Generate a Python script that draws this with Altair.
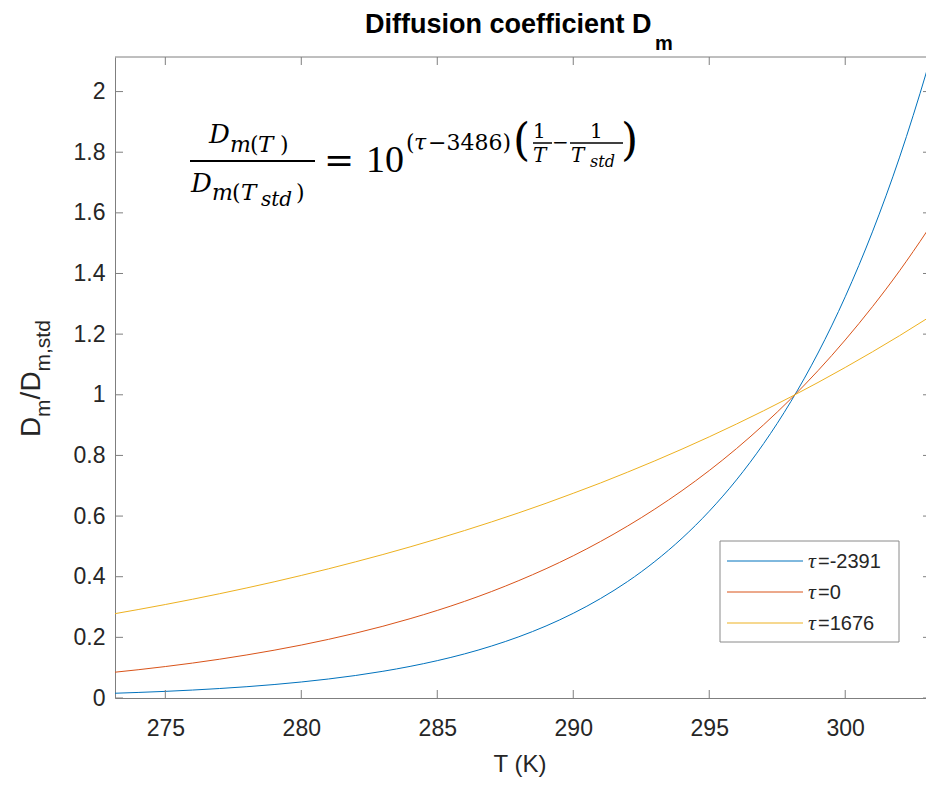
import altair as alt
import pandas as pd

# ---------------- data ----------------
T_K = [273.15, 274, 275, 276, 277, 278, 279, 280, 281, 282, 283, 284, 285, 286,
       287, 288, 289, 290, 291, 292, 293, 294, 295, 296, 297, 298, 299, 300,
       301, 302, 303, 303.15]
ratio_tau_m2391 = [0.0157, 0.0183, 0.0219, 0.0262, 0.0313, 0.0373, 0.0444, 0.0528,
                   0.0627, 0.0743, 0.0881, 0.1042, 0.1232, 0.1454, 0.1715, 0.2020,
                   0.2376, 0.2793, 0.3279, 0.3843, 0.4503, 0.5269, 0.6160, 0.7192,
                   0.8390, 0.9775, 1.1378, 1.3232, 1.5373, 1.7838, 2.0683, 2.1140]
ratio_tau_0 = [0.0851, 0.0932, 0.1037, 0.1152, 0.1280, 0.1421, 0.1576, 0.1746,
               0.1934, 0.2140, 0.2366, 0.2616, 0.2888, 0.3186, 0.3513, 0.3873,
               0.4264, 0.4691, 0.5161, 0.5673, 0.6231, 0.6839, 0.7501, 0.8224,
               0.9012, 0.9866, 1.0796, 1.1808, 1.2904, 1.4091, 1.5389, 1.5592]
ratio_tau_1676 = [0.2782, 0.2917, 0.3083, 0.3257, 0.3440, 0.3631, 0.3831, 0.4042,
                  0.4261, 0.4492, 0.4732, 0.4984, 0.5247, 0.5522, 0.5809, 0.6108,
                  0.6422, 0.6752, 0.7091, 0.7449, 0.7821, 0.8209, 0.8613, 0.9035,
                  0.9473, 0.9930, 1.0406, 1.0901, 1.1416, 1.1951, 1.2510, 1.2594]
tau_values = ["-2391", "0", "1676"]
series_names = ["τ=-2391", "τ=0", "τ=1676"]
x_ticks = [275, 280, 285, 290, 295, 300]
y_ticks = [0, 0.2, 0.4, 0.6, 0.8, 1, 1.2, 1.4, 1.6, 1.8, 2]

# ---------------- layout / style ----------------
W, H = 811, 641
OX, OY = 115, 57
COLORS = ["#0072BD", "#D95319", "#EDB120"]
AX = "#7f7f7f"
TXT = "#262626"
SANS = "Liberation Sans"
MATH = "DejaVu Serif"

rows = []
for name, vals in zip(series_names, [ratio_tau_m2391, ratio_tau_0, ratio_tau_1676]):
    for t, v in zip(T_K, vals):
        rows.append({"T": t, "ratio": v, "series": name})
df = pd.DataFrame(rows)

xscale = alt.Scale(domain=[273.15, 302.97], nice=False, zero=False)
yscale = alt.Scale(domain=[0, 2.114], nice=False, zero=False)
xaxis = alt.Axis(values=x_ticks, title="", ticks=False, tickSize=0, grid=False,
                 labelPadding=19, labelFont=SANS, labelFontSize=23, labelColor=TXT,
                 domainColor=AX, domainWidth=1, labelFlush=False)
yaxis = alt.Axis(values=y_ticks, format="~g", title="", ticks=False, tickSize=0, grid=False,
                 labelPadding=10, labelFont=SANS, labelFontSize=23, labelColor=TXT,
                 domainColor=AX, domainWidth=1, labelFlush=False)

lines = alt.Chart(df).mark_line(clip=True, strokeWidth=1, interpolate="monotone").encode(
    x=alt.X("T:Q", scale=xscale, axis=xaxis),
    y=alt.Y("ratio:Q", scale=yscale, axis=yaxis),
    color=alt.Color("series:N", scale=alt.Scale(domain=series_names, range=COLORS), legend=None),
)

xt = pd.DataFrame({"T": x_ticks})
yt = pd.DataFrame({"ratio": y_ticks})
tick_b = alt.Chart(xt).mark_rule(color=AX, strokeWidth=1).encode(
    x=alt.X("T:Q", scale=xscale, axis=xaxis), y=alt.value(H), y2=alt.value(H - 8))
tick_t = alt.Chart(xt).mark_rule(color=AX, strokeWidth=1).encode(
    x=alt.X("T:Q", scale=xscale, axis=xaxis), y=alt.value(0), y2=alt.value(8))
tick_l = alt.Chart(yt).mark_rule(color=AX, strokeWidth=1).encode(
    y=alt.Y("ratio:Q", scale=yscale, axis=yaxis), x=alt.value(0), x2=alt.value(8))
tick_r = alt.Chart(yt).mark_rule(color=AX, strokeWidth=1).encode(
    y=alt.Y("ratio:Q", scale=yscale, axis=yaxis), x=alt.value(W - 3), x2=alt.value(W))

one = pd.DataFrame({"k": [0]})
top_border = alt.Chart(one).mark_rule(color=AX, strokeWidth=1).encode(
    x=alt.value(0), x2=alt.value(W), y=alt.value(0))


def txt(s, X, Y, size, font=SANS, style="normal", weight="normal", angle=0,
        align="left", color=TXT):
    return alt.Chart(pd.DataFrame({"t": [s]})).mark_text(
        font=font, fontSize=size, fontStyle=style, fontWeight=weight,
        angle=angle, align=align, baseline="alphabetic", color=color
    ).encode(x=alt.value(X - OX), y=alt.value(Y - OY), text="t:N")


def hbar(X1, X2, Y, w=1.0, color="black"):
    return alt.Chart(one).mark_rule(color=color, strokeWidth=w).encode(
        x=alt.value(X1 - OX), x2=alt.value(X2 - OX), y=alt.value(Y - OY))


layers = [lines, tick_b, tick_t, tick_l, tick_r, top_border]

# title
layers += [txt("Diffusion coefficient D", 365, 33, 27, weight="bold", color="black"),
           txt("m", 655, 50, 20, weight="bold", color="black")]
# x title
layers += [txt("T (K)", 520, 772, 24, align="center")]
# y title (rotated)
layers += [txt("D", 40, 437, 28, angle=270),
           txt("m", 50, 417, 21, angle=270),
           txt("/", 40, 399.5, 28, angle=270),
           txt("D", 40, 391.5, 28, angle=270),
           txt("m,std", 50, 371.5, 21, angle=270)]

# equation annotation
I, N = "italic", "normal"
eq = [("D", 209, 143, 26, I, MATH), ("m", 230, 152, 22, I, MATH), ("(", 250, 152, 22, N, MATH),
      ("T", 258, 152, 23, I, MATH), (")", 280, 152, 22, N, MATH),
      ("D", 191, 192, 26, I, MATH), ("m", 212, 200, 22, I, MATH), ("(", 232, 200, 22, N, MATH),
      ("T", 241, 200, 23, I, MATH), ("std", 261, 206, 20, I, MATH), (")", 296, 200, 22, N, MATH),
      ("=", 324, 172, 36, N, MATH), ("10", 366, 172, 38, N, "Liberation Serif"),
      ("(", 406, 150, 22, N, MATH), ("τ", 414, 150, 22, I, MATH), ("−3486)", 428, 150, 22, N, MATH),
      ("(", 513, 155, 44, N, MATH), ("1", 533, 138, 20, N, MATH), ("T", 533, 162, 20, I, MATH),
      ("−", 552, 149, 20, N, MATH), ("1", 590, 138, 20, N, MATH), ("T", 571, 162, 20, I, MATH),
      ("std", 590, 167, 16, I, MATH), (")", 621, 155, 44, N, MATH)]
for s, X, Y, size, st, fnt in eq:
    layers.append(txt(s, X, Y, size, font=fnt, style=st, color="black"))
layers += [hbar(190, 315, 161, 2), hbar(533, 552, 143, 1.5), hbar(570, 623, 143, 1.5)]

# legend box
layers.append(alt.Chart(one).mark_rect(fill="white", stroke="#8a8a8a", strokeWidth=1).encode(
    x=alt.value(720 - OX), x2=alt.value(899 - OX), y=alt.value(541 - OY), y2=alt.value(642 - OY)))
for i, (val, col) in enumerate(zip(tau_values, COLORS)):
    ry = 561 + 31 * i
    layers.append(alt.Chart(one).mark_rule(color=col, strokeWidth=1).encode(
        x=alt.value(727 - OX), x2=alt.value(803 - OX), y=alt.value(ry - OY)))
    layers.append(txt("τ", 808, ry + 7, 22, font="Liberation Serif", style="italic"))
    layers.append(txt("=" + val, 818, ry + 7, 20))

chart = alt.layer(*layers).properties(
    width=W, height=H,
    padding={"left": OX, "top": OY, "right": 0, "bottom": 794 - OY - H},
    autosize=alt.AutoSizeParams(type="none"),
    background="white",
).configure_view(stroke="transparent")

chart.save("out.html", embed_options={"renderer": "svg", "actions": False})
